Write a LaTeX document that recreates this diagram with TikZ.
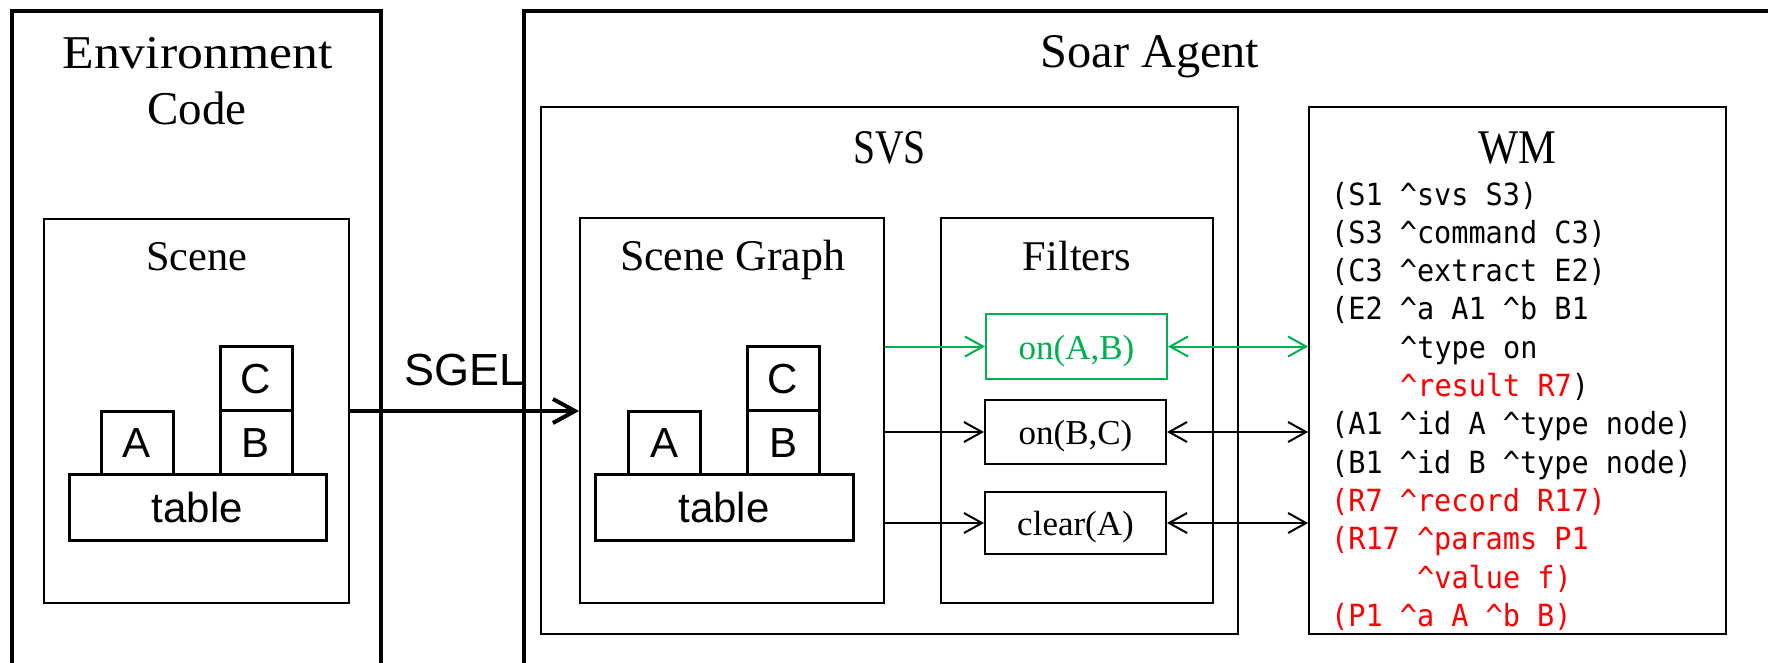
\documentclass[tikz,border=0pt]{standalone}
\usepackage{graphicx}
\usepackage{fontspec}
\setmainfont{Liberation Serif}
\newfontfamily\arialf{Liberation Sans}
\newfontfamily\monof{DejaVu Sans Mono}
\usetikzlibrary{arrows.meta}
\definecolor{fgreen}{RGB}{0,176,80}
\definecolor{fred}{RGB}{255,0,0}
\newcommand\caret{\string^}
\newcommand\wmline[1]{{\monof\fontsize{30.5}{36}\selectfont\scalebox{0.935}[1]{#1}}}
\tikzset{
  frame/.style={line width=4pt, line join=miter},
  panel/.style={draw, line width=1.8pt, inner sep=0pt},
  block/.style={draw, line width=3pt, inner sep=0pt,
    font=\arialf\fontsize{42}{42}\selectfont, text height=30pt, text depth=0pt},
  filt/.style={draw, line width=2pt, inner sep=0pt,
    font=\fontsize{35}{35}\selectfont, text height=25pt, text depth=0pt},
  title/.style={anchor=base, inner sep=0pt},
  wm/.style={anchor=base west, inner sep=0pt},
  barb/.tip={Straight Barb[length=18pt,width=20pt]},
  link/.style={line width=2pt, -barb},
  dlink/.style={line width=2pt, barb-barb},
  bigarrow/.style={line width=4pt, -{Straight Barb[length=22pt,width=24pt]}}
}
\begin{document}
\begin{tikzpicture}[x=1pt,y=-1pt]
\useasboundingbox (0,0) rectangle (1768,662);

% outer frames, open at the page edges
\draw[frame] (12,670) -- (12,11) -- (381,11) -- (381,670);
\draw[frame] (524,670) -- (524,11) -- (1775,11);

% environment side
\node[title, font=\fontsize{47}{47}\selectfont] (envT) at (197.5,68) {\scalebox{1.1}[1]{Environment}};
\node[title, font=\fontsize{47}{47}\selectfont] (codeT) at (197,124) {Code};
\node[panel, minimum width=305pt, minimum height=384pt] (scene) at (196.5,411) {};
\node[title, font=\fontsize{42.3}{42.3}\selectfont] (sceneT) at (196.5,270) {Scene};
\node[block, minimum width=257pt, minimum height=66pt] (tabL) at (197.5,507) {table};
\node[block, minimum width=72pt, minimum height=63pt] (aL) at (137,442.5) {A};
\node[block, minimum width=72pt, minimum height=64pt] (bL) at (256,442) {B};
\node[block, minimum width=72pt, minimum height=64pt] (cL) at (256,378) {C};

% agent side
\node[title, font=\fontsize{48.3}{48.3}\selectfont] (soarT) at (1150,67) {Soar Agent};
\node[panel, minimum width=697pt, minimum height=527pt] (svs) at (889.5,370.5) {};
\node[title, font=\fontsize{48.3}{48.3}\selectfont] (svsT) at (889.5,163) {\scalebox{0.82}[1]{SVS}};
\node[panel, minimum width=304pt, minimum height=385pt] (sg) at (732,410.5) {};
\node[title, font=\fontsize{43.8}{43.8}\selectfont] (sgT) at (732.5,270) {Scene Graph};
\node[block, minimum width=258pt, minimum height=66pt] (tabR) at (724,507) {table};
\node[block, minimum width=72pt, minimum height=63pt] (aR) at (664,442.5) {A};
\node[block, minimum width=72pt, minimum height=64pt] (bR) at (783,442) {B};
\node[block, minimum width=72pt, minimum height=64pt] (cR) at (783,378) {C};

\node[panel, minimum width=272pt, minimum height=385pt] (filters) at (1077,410.5) {};
\node[title, font=\fontsize{42.3}{42.3}\selectfont] (filtT) at (1077,270) {Filters};
\node[filt, draw=fgreen, text=fgreen, minimum width=181pt, minimum height=65pt] (fab) at (1076.5,346.5) {on(A,B)};
\node[filt, minimum width=181pt, minimum height=64pt] (fbc) at (1075.5,432) {on(B,C)};
\node[filt, minimum width=181pt, minimum height=62pt] (fca) at (1075.5,523) {clear(A)};

\node[panel, minimum width=417pt, minimum height=527pt] (wm) at (1517.5,370.5) {};
\node[title, font=\fontsize{48.3}{48.3}\selectfont] (wmT) at (1517,163) {\scalebox{0.88}[1]{WM}};

% working memory contents
\node[wm] (w1) at (1331,205) {\wmline{(S1 \caret svs S3)}};
\node[wm] (w2) at (1331,243.3) {\wmline{(S3 \caret command C3)}};
\node[wm] (w3) at (1331,281.6) {\wmline{(C3 \caret extract E2)}};
\node[wm] (w4) at (1331,319.9) {\wmline{(E2 \caret a A1 \caret b B1}};
\node[wm] (w5) at (1400,358.2) {\wmline{\caret type on}};
\node[wm] (w6) at (1400,396.5) {\wmline{\textcolor{fred}{\caret result R7})}};
\node[wm] (w7) at (1331,434.8) {\wmline{(A1 \caret id A \caret type node)}};
\node[wm] (w8) at (1331,473.1) {\wmline{(B1 \caret id B \caret type node)}};
\node[wm, text=fred] (w9) at (1331,511.4) {\wmline{(R7 \caret record R17)}};
\node[wm, text=fred] (w10) at (1331,549.7) {\wmline{(R17 \caret params P1}};
\node[wm, text=fred] (w11) at (1417,588) {\wmline{\caret value f)}};
\node[wm, text=fred] (w12) at (1331,626.3) {\wmline{(P1 \caret a A \caret b B)}};

% connectors
\draw[bigarrow] (scene.east) -- (scene.east -| sg.west);
\node[title, font=\arialf\fontsize{45}{45}\selectfont] (sgel) at (464.5,385) {SGEL};

\draw[link, fgreen] (sg.east |- fab.west) -- (fab.west);
\draw[dlink, fgreen] (fab.east) -- (fab.east -| wm.west);
\draw[link] (sg.east |- fbc.west) -- (fbc.west);
\draw[dlink] (fbc.east) -- (fbc.east -| wm.west);
\draw[link] (sg.east |- fca.west) -- (fca.west);
\draw[dlink] (fca.east) -- (fca.east -| wm.west);
\end{tikzpicture}
\end{document}
